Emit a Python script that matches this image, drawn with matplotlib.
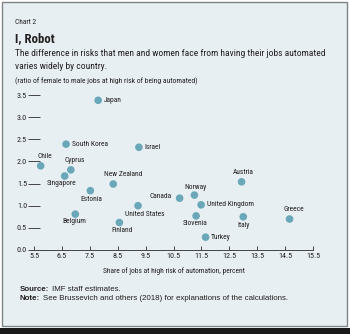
import matplotlib.pyplot as plt
from matplotlib import font_manager
from matplotlib.patches import Rectangle

# share of jobs at high risk of automation (percent) and female/male ratio
countries = ["Japan", "South Korea", "Israel", "Chile", "Cyprus", "Singapore",
             "New Zealand", "Estonia", "Canada", "Norway", "Austria",
             "United Kingdom", "United States", "Belgium", "Finland",
             "Slovenia", "Italy", "Turkey", "Greece"]
share = [7.80, 6.65, 9.26, 5.74, 6.82, 6.60, 8.34, 7.52, 10.72, 11.25, 12.94,
         11.49, 9.23, 6.98, 8.56, 11.31, 13.00, 11.65, 14.66]
ratio = [3.38, 2.39, 2.32, 1.90, 1.81, 1.67, 1.49, 1.34, 1.17, 1.24, 1.54,
         1.02, 1.00, 0.81, 0.62, 0.77, 0.75, 0.29, 0.70]

xticks = [5.5, 6.5, 7.5, 8.5, 9.5, 10.5, 11.5, 12.5, 13.5, 14.5, 15.5]
yticks = [0.0, 0.5, 1.0, 1.5, 2.0, 2.5, 3.0, 3.5]

# label offsets in points and alignment for each country
label_pos = {
    "Japan": (4, 0, "left", "center"),
    "South Korea": (4, 0, "left", "center"),
    "Israel": (4, 0, "left", "center"),
    "Chile": (3, 4, "center", "bottom"),
    "Cyprus": (3, 4, "center", "bottom"),
    "Singapore": (-2, -3, "center", "top"),
    "New Zealand": (7, 4, "center", "bottom"),
    "Estonia": (1, -4, "center", "top"),
    "Canada": (-6, 1, "right", "center"),
    "Norway": (1, 3, "center", "bottom"),
    "Austria": (1, 4, "center", "bottom"),
    "United Kingdom": (4, 0, "left", "center"),
    "United States": (5, -4, "center", "top"),
    "Belgium": (-1, -3, "center", "top"),
    "Finland": (2, -3, "center", "top"),
    "Slovenia": (-1, -3, "center", "top"),
    "Italy": (0, -4, "center", "top"),
    "Turkey": (4, 0, "left", "center"),
    "Greece": (3, 4, "center", "bottom"),
}

# use a narrow face when one is installed
installed = {f.name for f in font_manager.fontManager.ttflist}
narrow_font = "Liberation Sans"
for cand in ["Liberation Sans Narrow", "Roboto Condensed",
             "Open Sans Condensed", "DejaVu Sans Condensed"]:
    if cand in installed:
        narrow_font = cand
        break
narrow = [narrow_font, "DejaVu Sans"]
plain = ["Liberation Sans", "DejaVu Sans"]

W, H = 350, 334
bg = "#e7eff3"
dot = "#6aa7b9"
ink = "#231f20"
fs_lab = 5.4
fs_tick = 5.8

fig = plt.figure(figsize=(W / 100, H / 100), dpi=100, facecolor="white")


def fy(px):
    return 1 - px / H


# panel background, frame and bottom bar
fig.patches.append(Rectangle((2 / W, fy(326)), 345 / W, 324 / H,
                             transform=fig.transFigure, facecolor=bg,
                             edgecolor="#7d8488", linewidth=1.0, zorder=-2))
fig.patches.append(Rectangle((0, 0), 1, 6 / H, transform=fig.transFigure,
                             facecolor="#1a1a1a", edgecolor="none", zorder=-2))

fig.text(15 / W, fy(23), "Chart 2", fontsize=5.3, family=narrow, color=ink,
         va="center")
fig.text(15 / W, fy(39), "I, Robot", fontsize=9.2, family=narrow,
         weight="bold", color=ink, va="center")
fig.text(15 / W, fy(53), "The difference in risks that men and women face "
         "from having their jobs automated", fontsize=6.8, family=narrow,
         color=ink, va="center")
fig.text(15 / W, fy(66.5), "varies widely by country.", fontsize=6.8,
         family=narrow, color=ink, va="center")
fig.text(15 / W, fy(81), "(ratio of female to male jobs at high risk of "
         "being automated)", fontsize=5.5, family=narrow, color=ink,
         va="center")

ax = fig.add_axes([34 / W, fy(250), 279 / W, 155 / H])
ax.set_facecolor("none")
ax.scatter(share, ratio, s=30, color=dot, edgecolors="none", zorder=3,
           clip_on=False)
for name, x, y in zip(countries, share, ratio):
    dx, dy, ha, va = label_pos[name]
    ax.annotate(name, (x, y), xytext=(dx, dy), textcoords="offset points",
                ha=ha, va=va, fontsize=fs_lab, family=narrow, color=ink)

ax.set_xlim(5.5, 15.5)
ax.set_ylim(0, 3.5)
ax.set_xticks(xticks)
ax.set_yticks(yticks)
ax.set_xticklabels([f"{t:.1f}" for t in xticks], family=narrow,
                   fontsize=fs_tick, color=ink)
ax.set_yticklabels([f"{t:.1f}" for t in yticks], family=narrow,
                   fontsize=fs_tick, color=ink)
for s in ["top", "right", "left"]:
    ax.spines[s].set_visible(False)
ax.spines["bottom"].set_color("#444444")
ax.spines["bottom"].set_linewidth(0.7)
ax.tick_params(axis="x", direction="in", length=3, width=0.7,
               color="#444444", pad=2)
ax.tick_params(axis="y", direction="inout", length=8, width=0.7,
               color="#444444", pad=1)
ax.set_xlabel("Share of jobs at high risk of automation, percent",
              family=narrow, fontsize=fs_lab, color=ink, labelpad=6)

# source and note lines: bold lead-in followed by plain text
for ypx, head, body in [
        (289.5, "Source:", "IMF staff estimates."),
        (299, "Note:", "See Brussevich and others (2018) for explanations "
                       "of the calculations.")]:
    lead = fig.text(20 / W, fy(ypx), head, fontsize=5.7, weight="bold",
                    family=plain, color=ink, va="center")
    ax.annotate(body, xy=(1, 0.5), xycoords=lead, xytext=(2, 0),
                textcoords="offset points", fontsize=5.7, family=plain,
                color=ink, va="center", annotation_clip=False)

fig.savefig("out.png", dpi=100, facecolor="white")
